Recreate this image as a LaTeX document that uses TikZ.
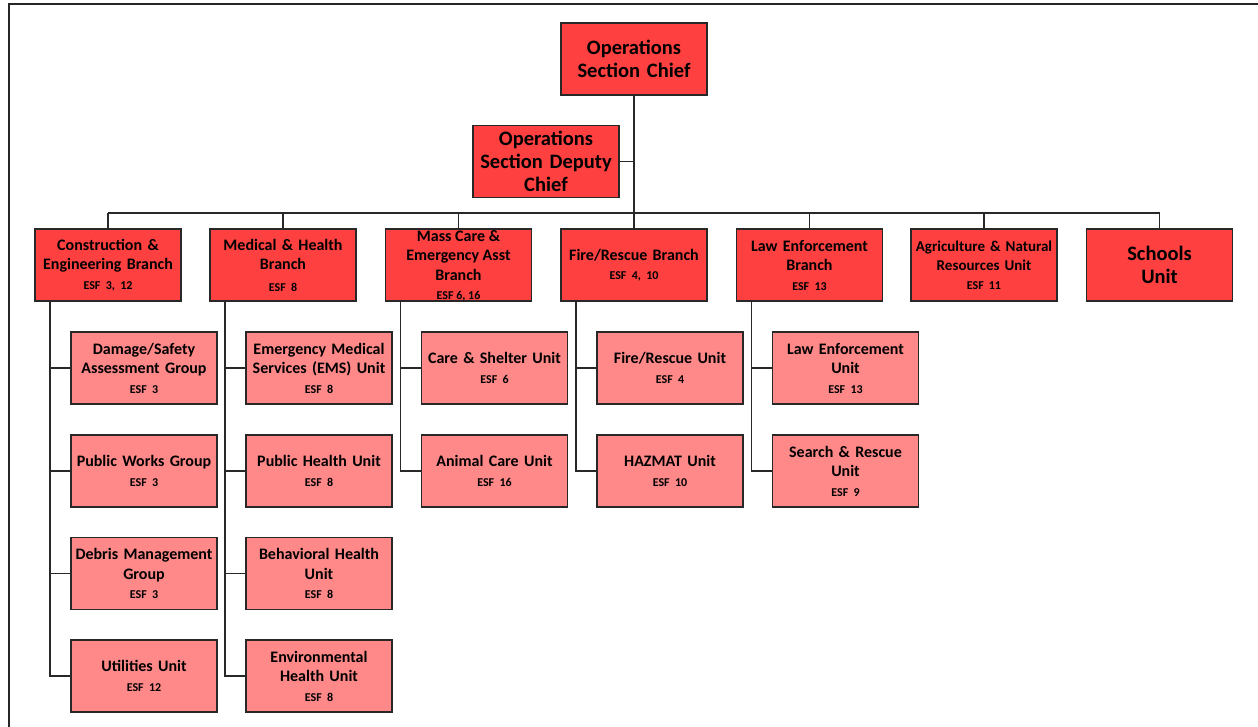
\documentclass[tikz,border=0pt]{standalone}
\usepackage{fontspec}
\setmainfont{Carlito}
\definecolor{branchred}{RGB}{255,64,64}
\definecolor{unitpink}{RGB}{255,136,136}
\definecolor{edgegray}{RGB}{40,40,40}
\newcommand\bigtxt{\fontsize{20.5}{23}\selectfont}
\newcommand\brtxt{\fontsize{16}{19.5}\selectfont}
\newcommand\untxt{\fontsize{16}{19.5}\selectfont}
\newcommand\esftxt{\fontsize{12}{14}\selectfont}
\tikzset{
  box/.style={draw=edgegray, line width=1.3pt, minimum width=146pt, minimum height=72pt,
    text width=145pt, inner xsep=0.5pt, inner ysep=0pt, align=center, font=\bfseries},
  branchbox/.style={box, fill=branchred, font=\bfseries\brtxt},
  bigbox/.style={box, fill=branchred, font=\bfseries\bigtxt},
  unitbox/.style={box, fill=unitpink, font=\bfseries\untxt},
  conn/.style={draw=edgegray, line width=1.3pt},
  frame/.style={draw=black!85, line width=2.6pt}
}
\begin{document}
\begin{tikzpicture}[x=1pt,y=-1pt]
\useasboundingbox (0,0) rectangle (1258,727);
\draw[frame] (9,727) -- (9,4) -- (1258,4);

% top
\node[bigbox] (chief) at (634,59) {Operations\\Section Chief};
\node[bigbox] (dep) at (546,161.5) {Operations\\Section Deputy\\Chief};

% branches
\node[branchbox] (ce) at (108,265) {Construction \&\\Engineering Branch\\{\esftxt ESF 3, 12}};
\node[branchbox] (mh) at (283,265) {Medical \& Health\\Branch\\[2pt]{\esftxt ESF 8}};
\node[branchbox, label={[name=mctext, align=center, font=\bfseries\brtxt, inner sep=0pt, yshift=-1pt]center:{Mass Care \&\\Emergency Asst\\Branch\\{\esftxt ESF 6, 16}}}] (mc) at (458.5,265) {};
\node[branchbox] (fr) at (634,265) {Fire/Rescue Branch\\{\esftxt ESF 4, 10}};
\node[branchbox] (le) at (809.5,265) {Law Enforcement\\Branch\\{\esftxt ESF 13}};
\node[branchbox, font=\bfseries\fontsize{15}{19}\selectfont] (ag) at (984,265) {Agriculture \& Natural\\Resources Unit\\{\esftxt ESF 11}};
\node[bigbox] (sc) at (1159.5,265) {Schools\\Unit};

% units
\node[unitbox] (ce1) at (144,368) {Damage/Safety\\Assessment Group\\{\esftxt ESF 3}};
\node[unitbox] (ce2) at (144,471) {Public Works Group\\{\esftxt ESF 3}};
\node[unitbox] (ce3) at (144,573.5) {Debris Management\\Group\\{\esftxt ESF 3}};
\node[unitbox] (ce4) at (144,676) {Utilities Unit\\{\esftxt ESF 12}};

\node[unitbox] (mh1) at (319,368) {Emergency Medical\\Services (EMS) Unit\\{\esftxt ESF 8}};
\node[unitbox] (mh2) at (319,471) {Public Health Unit\\{\esftxt ESF 8}};
\node[unitbox] (mh3) at (319,573.5) {Behavioral Health\\Unit\\{\esftxt ESF 8}};
\node[unitbox] (mh4) at (319,676) {Environmental\\Health Unit\\{\esftxt ESF 8}};

\node[unitbox] (mc1) at (494.5,368) {Care \& Shelter Unit\\{\esftxt ESF 6}};
\node[unitbox] (mc2) at (494.5,471) {Animal Care Unit\\{\esftxt ESF 16}};

\node[unitbox] (fr1) at (670,368) {Fire/Rescue Unit\\{\esftxt ESF 4}};
\node[unitbox] (fr2) at (670,471) {HAZMAT Unit\\{\esftxt ESF 10}};

\node[unitbox] (le1) at (845.5,368) {Law Enforcement\\Unit\\{\esftxt ESF 13}};
\node[unitbox] (le2) at (845.5,471) {Search \& Rescue\\Unit\\{\esftxt ESF 9}};

% connectors top
\coordinate (bus) at (634,213);
\draw[conn] (chief.south) -- (fr.north);
\draw[conn] (dep.east) -- (dep.east -| chief.south);
\draw[conn] (ce.north |- bus) -- (sc.north |- bus);
\foreach \b in {ce,mh,mc,le,ag,sc} {
  \draw[conn] (\b.north) -- (\b.north |- bus);
}

% connectors to units
\foreach \b/\u in {ce/ce1,ce/ce2,ce/ce3,ce/ce4,mh/mh1,mh/mh2,mh/mh3,mh/mh4,mc/mc1,mc/mc2,fr/fr1,fr/fr2,le/le1,le/le2} {
  \draw[conn] ([xshift=15.5pt]\b.south west) |- (\u.west);
}
\end{tikzpicture}
\end{document}
